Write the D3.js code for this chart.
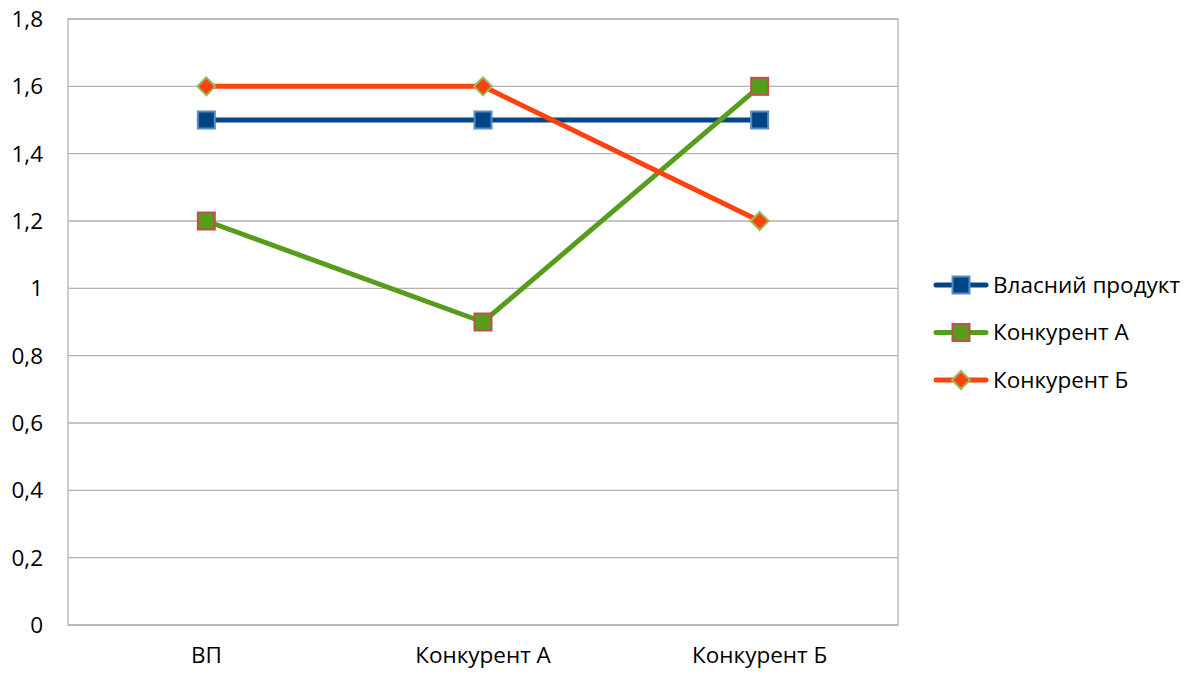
<!DOCTYPE html>
<html>
<head>
<meta charset="utf-8">
<script src="https://cdn.jsdelivr.net/npm/d3@7"></script>
<style>
  body { margin: 0; background: #fff; }
  text { font-family: "Open Sans", "Liberation Sans", sans-serif; fill: #000; }
</style>
</head>
<body>
<div id="chart"></div>
<script>
var WIDTH = 1192, HEIGHT = 675;

var categories = ['ВП', 'Конкурент А', 'Конкурент Б'];
var seriesNames = ['Власний продукт', 'Конкурент А', 'Конкурент Б'];
var ownValues = [1.5, 1.5, 1.5];
var compAValues = [1.2, 0.9, 1.6];
var compBValues = [1.6, 1.6, 1.2];
var yTicks = [0, 0.2, 0.4, 0.6, 0.8, 1, 1.2, 1.4, 1.6, 1.8];

var series = [
  { name: seriesNames[0], values: ownValues, color: '#004586', marker: 'square', markerStroke: '#5a8ac6' },
  { name: seriesNames[1], values: compAValues, color: '#579d1c', marker: 'square', markerStroke: '#c0504d' },
  { name: seriesNames[2], values: compBValues, color: '#ff420e', marker: 'diamond', markerStroke: '#9bbb59' }
];

var FONT = 22.5;
var margin = { left: 68, top: 19, right: 294, bottom: 50 };

var svg = d3.select('#chart').append('svg')
  .attr('width', WIDTH)
  .attr('height', HEIGHT);

var x = d3.scaleBand()
  .domain(categories)
  .range([margin.left, WIDTH - margin.right]);

var y = d3.scaleLinear()
  .domain([0, 1.8])
  .range([HEIGHT - margin.bottom, margin.top]);

// grid lines
svg.append('g')
  .selectAll('line')
  .data(yTicks)
  .enter().append('line')
  .attr('x1', margin.left)
  .attr('x2', WIDTH - margin.right)
  .attr('y1', function(d) { return y(d); })
  .attr('y2', function(d) { return y(d); })
  .attr('stroke', '#b3b3b3')
  .attr('stroke-width', 1.3);

// plot frame
svg.append('rect')
  .attr('x', margin.left)
  .attr('y', margin.top)
  .attr('width', WIDTH - margin.right - margin.left)
  .attr('height', HEIGHT - margin.bottom - margin.top)
  .attr('fill', 'none')
  .attr('stroke', '#b3b3b3')
  .attr('stroke-width', 1.3);

var fmt = function(d) { return String(d).replace('.', ','); };

var yAxis = svg.append('g')
  .attr('transform', 'translate(' + margin.left + ',0)')
  .call(d3.axisLeft(y).tickValues(yTicks).tickFormat(fmt).tickSize(0).tickPadding(25));
yAxis.select('.domain').remove();
yAxis.selectAll('text').attr('font-size', FONT).attr('dy', '0.34em');

var xAxis = svg.append('g')
  .attr('transform', 'translate(0,' + (HEIGHT - margin.bottom) + ')')
  .call(d3.axisBottom(x).tickSize(0).tickPadding(22));
xAxis.select('.domain').remove();
xAxis.selectAll('text').attr('font-size', FONT).attr('dy', '0.71em');

var line = d3.line()
  .x(function(d, i) { return x(categories[i]) + x.bandwidth() / 2; })
  .y(function(d) { return y(d); });

function drawMarker(g, s, cx, cy) {
  if (s.marker === 'square') {
    g.append('rect')
      .attr('x', cx - 8.5).attr('y', cy - 8.5)
      .attr('width', 17).attr('height', 17)
      .attr('fill', s.color)
      .attr('stroke', s.markerStroke)
      .attr('stroke-width', 2);
  } else {
    g.append('path')
      .attr('d', 'M' + cx + ',' + (cy - 9) + 'L' + (cx + 9) + ',' + cy + 'L' + cx + ',' + (cy + 9) + 'L' + (cx - 9) + ',' + cy + 'Z')
      .attr('fill', s.color)
      .attr('stroke', s.markerStroke)
      .attr('stroke-width', 2);
  }
}

series.forEach(function(s) {
  var g = svg.append('g');
  g.append('path')
    .datum(s.values)
    .attr('d', line)
    .attr('fill', 'none')
    .attr('stroke', s.color)
    .attr('stroke-width', 5)
    .attr('stroke-linejoin', 'round');
  s.values.forEach(function(v, i) {
    drawMarker(g, s, x(categories[i]) + x.bandwidth() / 2, y(v));
  });
});

// legend
var legend = svg.append('g');
series.forEach(function(s, i) {
  var ly = 285 + i * 47.5;
  var g = legend.append('g');
  g.append('line')
    .attr('x1', 936).attr('x2', 986)
    .attr('y1', ly).attr('y2', ly)
    .attr('stroke', s.color)
    .attr('stroke-width', 5)
    .attr('stroke-linecap', 'round');
  drawMarker(g, s, 961, ly);
  g.append('text')
    .attr('x', 993)
    .attr('y', ly)
    .attr('dy', '0.35em')
    .attr('font-size', FONT)
    .text(s.name);
});
</script>
</body>
</html>
